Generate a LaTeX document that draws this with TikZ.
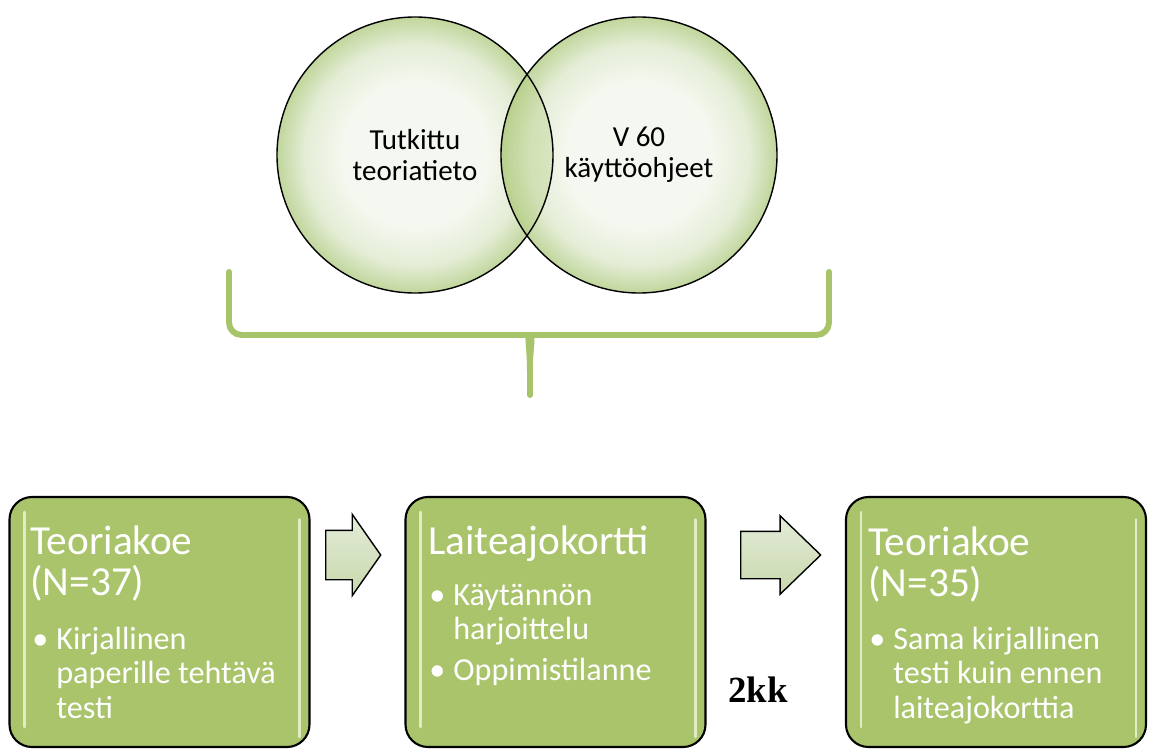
\documentclass[tikz,border=0pt]{standalone}
\usepackage{fontspec}
\setmainfont{Carlito}
\newfontfamily\timesfont{Liberation Serif}
\usetikzlibrary{shapes.arrows}

\definecolor{boxgreen}{RGB}{169,196,107}
\definecolor{boxglint}{RGB}{226,236,196}
\definecolor{bracegreen}{RGB}{167,196,106}
\definecolor{bubblein}{RGB}{245,248,240}
\definecolor{bubblemid}{RGB}{228,237,214}
\definecolor{bubbleout}{RGB}{193,214,156}
\definecolor{arrowtop}{RGB}{228,236,216}
\definecolor{arrowbottom}{RGB}{200,216,172}

\pgfdeclareradialshading{bubble}{\pgfpoint{0bp}{0bp}}{color(0bp)=(bubblein); color(13bp)=(bubblein); color(20bp)=(bubblemid); color(25bp)=(bubbleout); color(50bp)=(bubbleout)}

\newcommand\bulletitem{\makebox[0.48cm][l]{•}}
\newcommand\bulletcont{\hspace*{0.48cm}}

\begin{document}
\begin{tikzpicture}[bubble/.style={circle, minimum size=5.52cm, shading=bubble, align=center, font=\fontsize{16.5}{17.5}\selectfont},
        rim/.style={draw=black, line width=0.8pt},
        stage/.style={draw=black, line width=1.2pt, rounded corners=0.45cm, fill=boxgreen, minimum width=6cm, minimum height=5cm,
            path picture={
                \draw[glint] ([xshift=0.3cm,yshift=-0.3cm]path picture bounding box.north west) -- ([xshift=0.3cm,yshift=0.4cm]path picture bounding box.south west);
                \draw[glint] ([xshift=-0.2cm,yshift=-0.45cm]path picture bounding box.north east) -- ([xshift=-0.2cm,yshift=0.2cm]path picture bounding box.south east);
            }},
        glint/.style={line width=1.5pt, draw=boxglint, line cap=round},
        title/.style={anchor=base west, inner sep=0pt, align=left, text=white, font=\fontsize{23.5}{23.3}\selectfont},
        points/.style={anchor=base west, inner sep=0pt, align=left, text=white, font=\fontsize{18.3}{19.6}\selectfont},
        nextarrow/.style={single arrow, draw=black, line width=0.8pt, top color=arrowtop, bottom color=arrowbottom, inner xsep=0pt, anchor=tail},
        brace/.style={draw=bracegreen, line width=3.4pt, line cap=round, line join=round}]
        \fill[white] (0,0) rectangle (23.02,-14.98);
        \useasboundingbox (0,0) rectangle (23.02,-14.98);

        % venn
        \node [bubble] (theory) at (8.30,-3.10) {Tutkittu\\teoriatieto};
        \node [bubble] (manual) at (12.78,-3.10) {V 60\\käyttöohjeet};
        \begin{scope}
            \clip (theory.center) circle (2.76);
            \fill [bracegreen, opacity=0.3] (manual.center) circle (2.76);
        \end{scope}
        \draw [rim] (theory.center) circle (2.76);
        \draw [rim] (manual.center) circle (2.76);

        % brace
        \draw [brace, rounded corners=0.25cm] (4.58,-5.44) |- (10.36,-6.70) .. controls (10.55,-6.70) and (10.57,-6.82) .. (10.60,-7.20) -- (10.60,-7.90);
        \draw [brace, rounded corners=0.25cm] (16.58,-5.44) |- (10.84,-6.70) .. controls (10.65,-6.70) and (10.63,-6.82) .. (10.60,-7.20);

        % stages
        \node [stage] (pretest) at (3.19,-12.44) {};
        \node [stage] (card) at (11.11,-12.44) {};
        \node [stage] (posttest) at (19.92,-12.44) {};

        \node [title] (pretesthead) at (0.60,-11.90) {Teoriakoe\\(N=37)};
        \node [points] (pretestlist) at (0.64,-14.36) {\bulletitem Kirjallinen\\\bulletcont paperille tehtävä\\\bulletcont testi};

        \node [title] (cardhead) at (8.56,-11.08) {Laiteajokortti};
        \node [points] (cardlist) at (8.58,-13.60) {\bulletitem Käytännön\\\bulletcont harjoittelu\\[3.4pt]\bulletitem Oppimistilanne};

        \node [title] (posttesthead) at (17.36,-11.92) {Teoriakoe\\(N=35)};
        \node [points] (posttestlist) at (17.38,-14.36) {\bulletitem Sama kirjallinen\\\bulletcont testi kuin ennen\\\bulletcont laiteajokorttia};

        % arrows
        \node [nextarrow, minimum height=1.1cm, inner ysep=0.48cm, single arrow head extend=0.32cm, single arrow tip angle=110] (first) at (6.50,-11.10) {};
        \node [nextarrow, minimum height=1.6cm, inner ysep=0.46cm, single arrow head extend=0.31cm, single arrow tip angle=88] (second) at (14.80,-11.10) {};

        \node [font=\timesfont\bfseries\fontsize{21}{24}\selectfont] (gap) at (15.16,-13.80) {2kk};
        \end{tikzpicture}
\end{document}
